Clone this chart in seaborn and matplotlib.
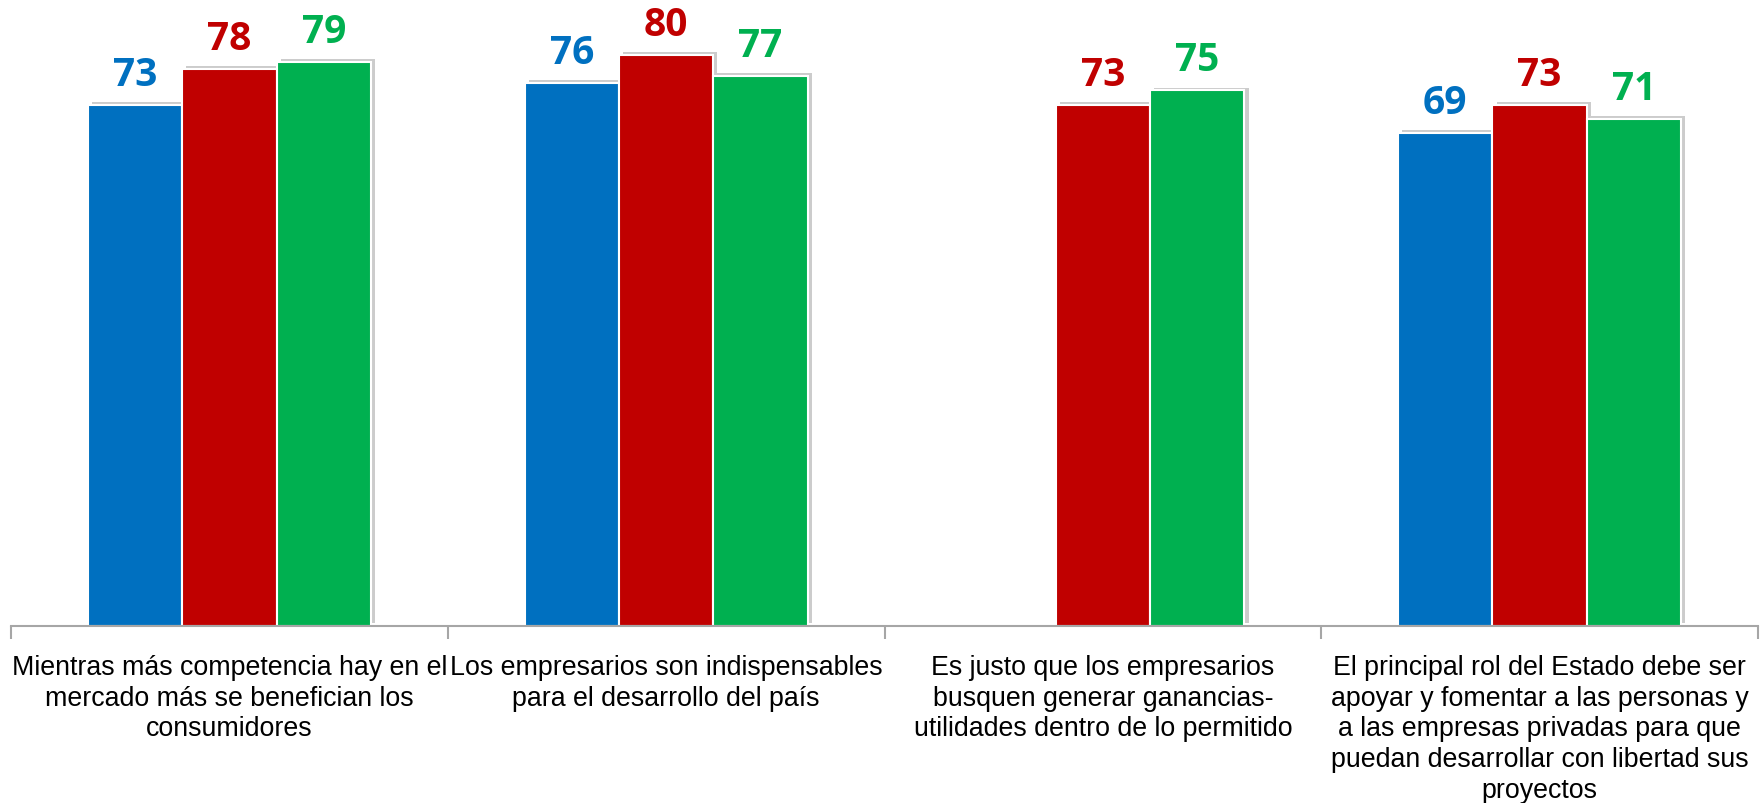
import numpy as np
import pandas as pd
import seaborn as sns
import matplotlib.pyplot as plt
import matplotlib.patheffects as pe

# datos
categorias = [
    "Mientras más competencia hay en el\nmercado más se benefician los\nconsumidores",
    "Los empresarios son indispensables\npara el desarrollo del país",
    "Es justo que los empresarios\nbusquen generar ganancias-\nutilidades dentro de lo permitido",
    "El principal rol del Estado debe ser\napoyar y fomentar a las personas y\na las empresas privadas para que\npuedan desarrollar con libertad sus\nproyectos",
]
series = ["Serie 1", "Serie 2", "Serie 3"]
serie_1 = [73, 76, np.nan, 69]
serie_2 = [78, 80, 73, 73]
serie_3 = [79, 77, 75, 71]
colores = ["#0070C0", "#C00000", "#00B050"]

df = pd.DataFrame({
    "categoria": categorias * 3,
    "serie": [s for s in series for _ in categorias],
    "valor": serie_1 + serie_2 + serie_3,
})

sns.set_style("white")
fig = plt.figure(figsize=(17.61, 8.04), dpi=100)
ax = fig.add_axes([11 / 1761, 177 / 804, 1747 / 1761, 627 / 804])

sns.barplot(data=df, x="categoria", y="valor", hue="serie", order=categorias,
            hue_order=series, palette=colores, saturation=1, width=0.648,
            edgecolor="white", linewidth=1.5, errorbar=None, legend=False, ax=ax)

for cont, col in zip(ax.containers, colores):
    for bar in cont:
        bar.set_path_effects([pe.SimplePatchShadow(offset=(3, 2), shadow_rgbFace="#808080", alpha=0.4),
                              pe.Normal()])
    vals = [b.get_height() for b in cont]
    labels = ["" if np.isnan(v) else f"{v:.0f}" for v in vals]
    ax.bar_label(cont, labels=labels, padding=8, color=col, fontsize=28,
                 fontweight="bold", family="Open Sans")

ax.set_ylim(0, 87.8)
ax.set_xlim(-0.5, 3.5)
ax.set_yticks([])
ax.set_xlabel("")
ax.set_ylabel("")
for s in ["top", "right", "left"]:
    ax.spines[s].set_visible(False)
ax.spines["bottom"].set_color("#A6A6A6")
ax.spines["bottom"].set_linewidth(1.5)

ax.set_xticks(range(len(categorias)))
ax.set_xticklabels(categorias, fontsize=19.3, family="Liberation Sans",
                   linespacing=1.24, color="black")
ax.tick_params(axis="x", which="major", bottom=False, length=0, pad=20)
ax.set_xticks(np.arange(-0.5, 4, 1), minor=True)
ax.tick_params(axis="x", which="minor", bottom=True, length=9, width=1.5,
               color="#A6A6A6", direction="out")

fig.savefig("out.png", dpi=100)
